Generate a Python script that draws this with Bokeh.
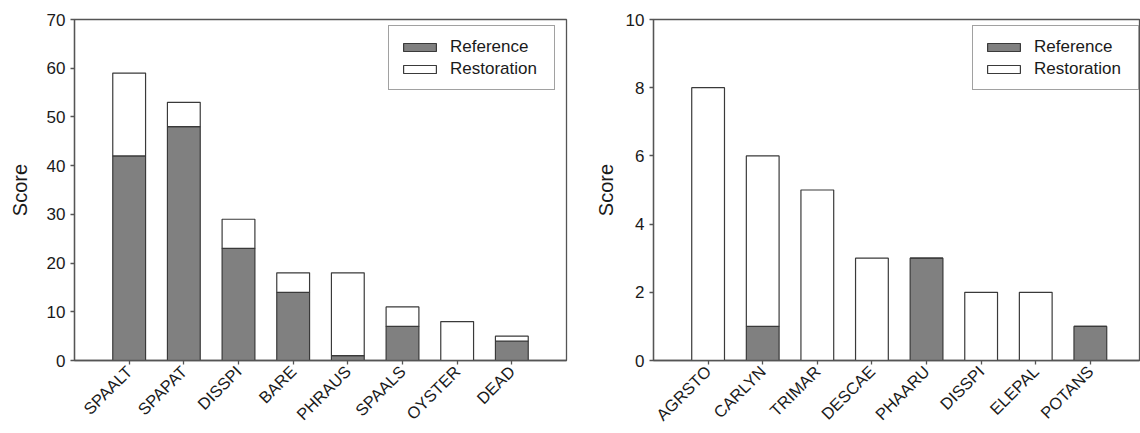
import math
from bokeh.plotting import figure
from bokeh.layouts import row
from bokeh.models import ColumnDataSource, Range1d, FixedTicker
from bokeh.embed import file_html
from bokeh.resources import INLINE

# ---- data ----
left_species = ["SPAALT", "SPAPAT", "DISSPI", "BARE", "PHRAUS", "SPAALS", "OYSTER", "DEAD"]
left_reference = [42, 48, 23, 14, 1, 7, 0, 4]
left_restoration = [17, 5, 6, 4, 17, 4, 8, 1]

right_species = ["AGRSTO", "CARLYN", "TRIMAR", "DESCAE", "PHAARU", "DISSPI", "ELEPAL", "POTANS"]
right_reference = [0, 1, 0, 0, 3, 0, 0, 1]
right_restoration = [8, 5, 5, 3, 0, 2, 2, 0]

left_yticks = [0, 10, 20, 30, 40, 50, 60, 70]
right_yticks = [0, 2, 4, 6, 8, 10]

FONT = "Liberation Sans"
AXIS_COLOR = "#555555"


def make_panel(species, ref, rest, yticks, width, min_left, min_right, x_end,
               label_standoff, legend_xy):
    xs = list(range(1, len(species) + 1))
    src = ColumnDataSource(dict(x=xs, Reference=ref, Restoration=rest))
    p = figure(width=width, height=433, output_backend="svg", toolbar_location=None,
               x_range=Range1d(0, x_end), y_range=Range1d(yticks[0], yticks[-1]),
               min_border_left=min_left, min_border_right=min_right,
               min_border_top=19, min_border_bottom=71)
    p.vbar_stack(["Reference", "Restoration"], x="x", width=0.6, source=src,
                 fill_color=["#808080", "white"], line_color="#3a3a3a", line_width=1.2,
                 legend_label=["Reference", "Restoration"])
    p.xgrid.visible = False
    p.ygrid.visible = False
    p.outline_line_color = AXIS_COLOR
    p.outline_line_width = 1.3
    p.background_fill_color = "white"
    p.border_fill_color = "white"

    p.xaxis.ticker = FixedTicker(ticks=xs)
    p.xaxis.major_label_overrides = {x: s for x, s in zip(xs, species)}
    p.xaxis.major_label_orientation = math.pi / 4
    p.yaxis.ticker = FixedTicker(ticks=yticks)
    for ax in (p.xaxis, p.yaxis):
        ax.axis_line_color = AXIS_COLOR
        ax.axis_line_width = 1.3
        ax.major_tick_line_color = AXIS_COLOR
        ax.major_tick_line_width = 1.3
        ax.major_tick_out = 4
        ax.major_tick_in = 0
        ax.minor_tick_line_color = None
        ax.major_label_text_font = FONT
        ax.major_label_text_color = "#1a1a1a"
    p.yaxis.major_label_standoff = 5
    p.xaxis.major_label_standoff = 4
    p.xaxis.major_label_text_font_size = "16.5px"
    p.yaxis.major_label_text_font_size = "17px"
    p.yaxis.axis_label = "Score"
    p.yaxis.axis_label_text_font = FONT
    p.yaxis.axis_label_text_font_style = "normal"
    p.yaxis.axis_label_text_font_size = "20px"
    p.yaxis.axis_label_text_color = "#1a1a1a"
    p.yaxis.axis_label_standoff = label_standoff

    lg = p.legend[0]
    lg.location = legend_xy
    lg.margin = 0
    lg.padding = 10
    lg.spacing = 1
    lg.label_height = 21
    lg.label_width = 94
    lg.glyph_height = 10
    lg.glyph_width = 41
    lg.label_standoff = 10
    lg.border_line_color = "#444444"
    lg.border_line_width = 1.2
    lg.label_text_font = FONT
    lg.label_text_font_size = "17px"
    lg.label_text_color = "#1a1a1a"
    lg.background_fill_alpha = 1.0
    return p


p1 = make_panel(left_species, left_reference, left_restoration, left_yticks,
                580, 74, 14, 9, 13, (314, 270))
p2 = make_panel(right_species, right_reference, right_restoration, right_yticks,
                560, 73, 1, 8.9, 6, (319, 270))

layout = row(p1, p2)
open("out.html", "w").write(file_html(layout, INLINE))
